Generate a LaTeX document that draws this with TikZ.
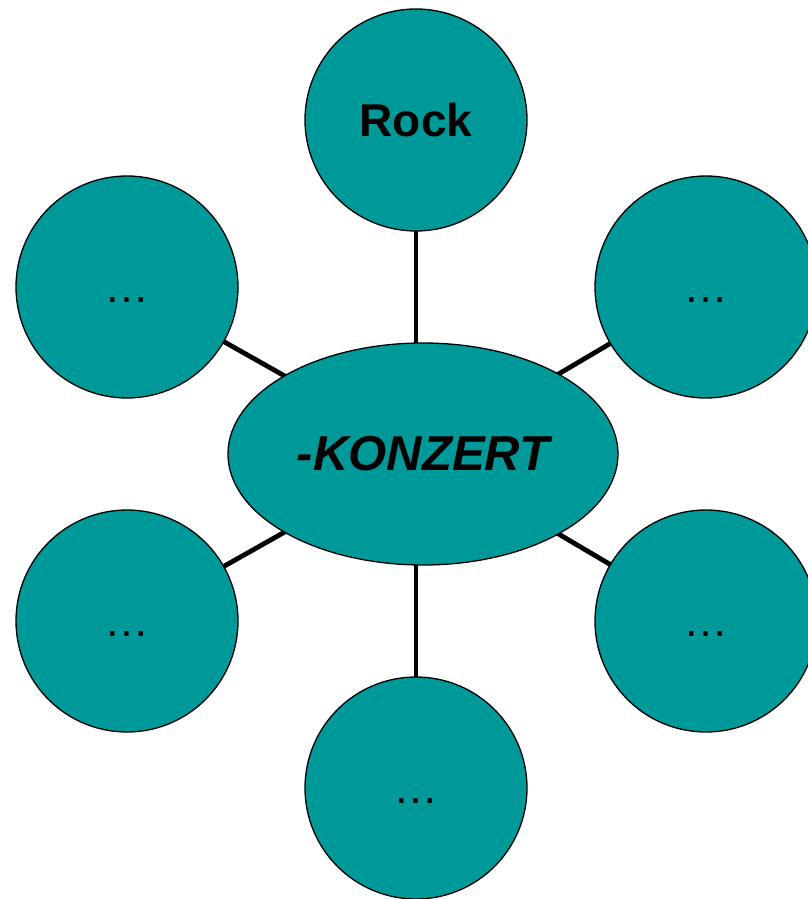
\documentclass[tikz,border=0pt]{standalone}
\usepackage{fontspec}
\setmainfont{Liberation Sans}
\usetikzlibrary{shapes.geometric,backgrounds}
\definecolor{teal}{HTML}{009999}
\begin{document}
\begin{tikzpicture}[x=1pt,y=1pt,
  bubble/.style={circle,draw=black,line width=1.3pt,fill=teal,minimum size=222pt,inner sep=0pt},
  hub/.style={ellipse,draw=black,line width=1.3pt,fill=teal,minimum width=390pt,minimum height=222pt,inner sep=0pt},
  link/.style={line width=4.8pt,draw=black},
  dots/.style={font=\fontsize{45}{54}\selectfont}]
\useasboundingbox (0,0) rectangle (808,-899);
\clip (0,0) rectangle (808,-899);
\node[hub] (e) at (423,-454) {\fontsize{49}{59}\selectfont\bfseries\itshape -KONZERT};
\node[bubble] (t) at (416,-120) {\fontsize{46}{55}\selectfont\bfseries Rock};
\node[bubble,dots] (ul) at (127,-287) {\vphantom{R}…};
\node[bubble,dots] (ur) at (706,-287) {\vphantom{R}…};
\node[bubble,dots] (ll) at (127,-621) {\vphantom{R}…};
\node[bubble,dots] (lr) at (706,-621) {\vphantom{R}…};
\node[bubble,dots] (b) at (416,-788) {\vphantom{R}…};
\begin{scope}[on background layer]
\draw[link] (t.center) -- (t.center |- e.center);
\draw[link] (b.center) -- (b.center |- e.center);
\draw[link] (ul.center) -- (e.center);
\draw[link] (ur.center) -- (e.center);
\draw[link] (ll.center) -- (e.center);
\draw[link] (lr.center) -- (e.center);
\end{scope}
\end{tikzpicture}
\end{document}
